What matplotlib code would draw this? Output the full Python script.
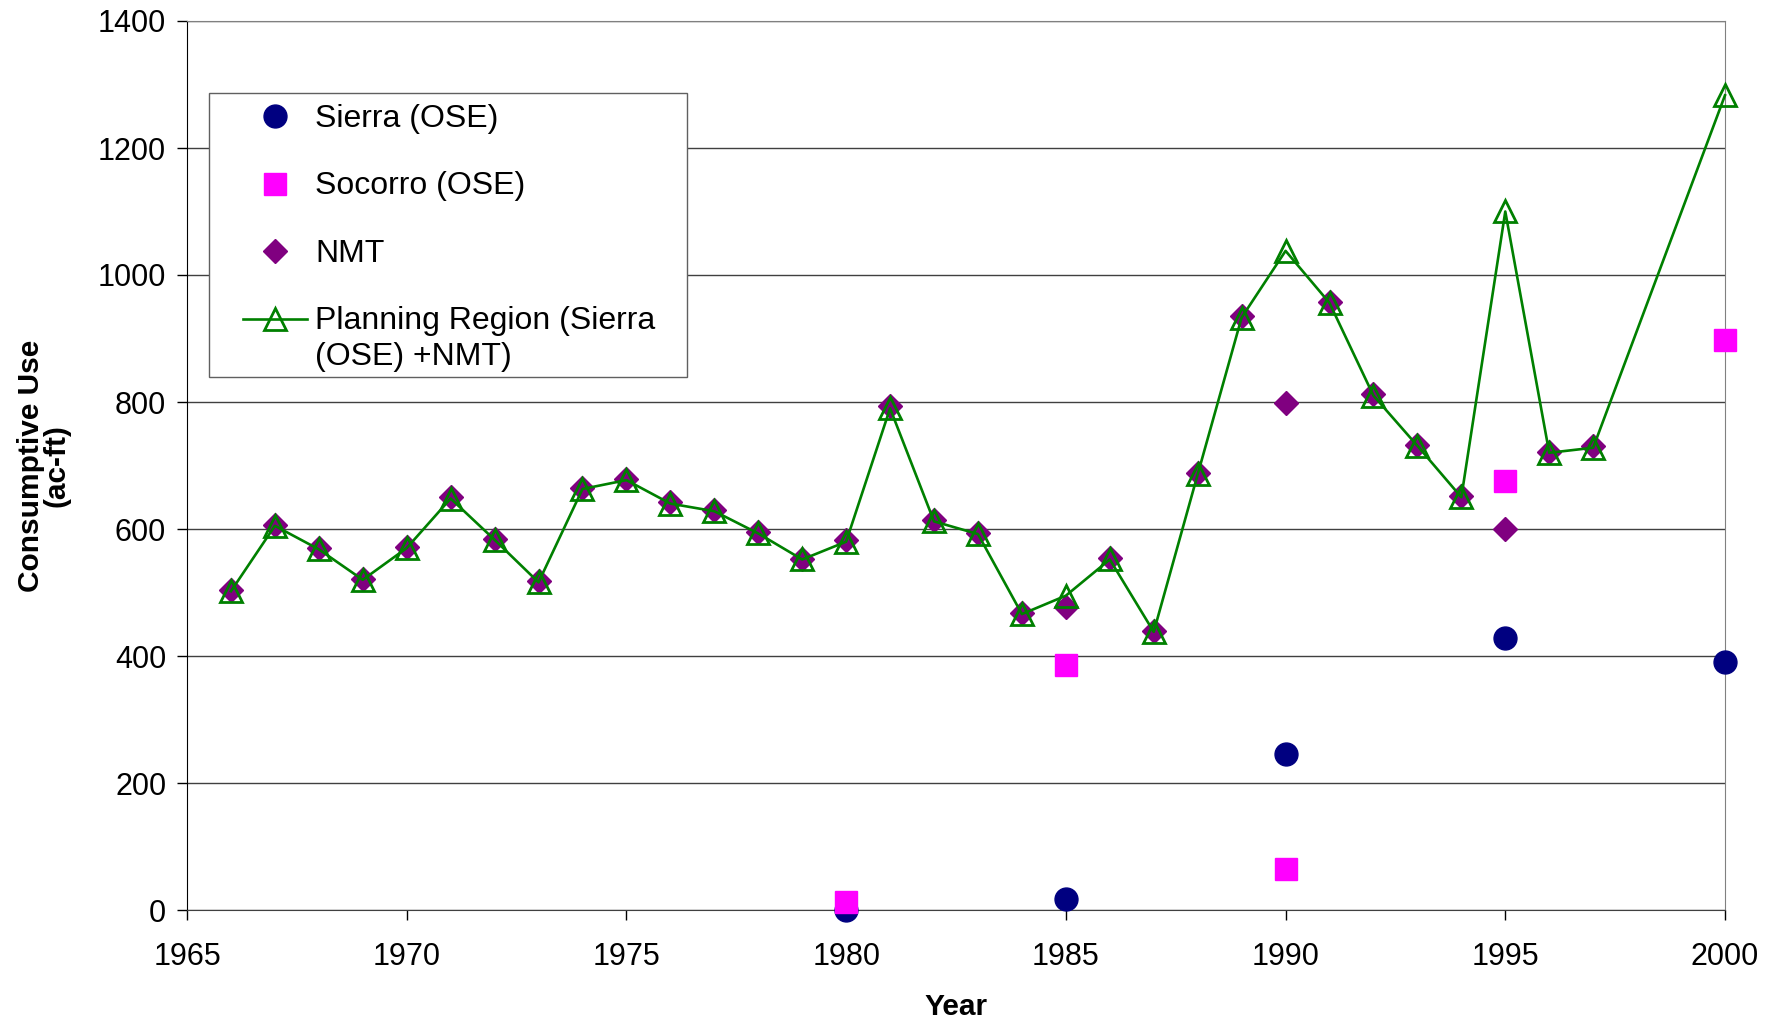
import matplotlib
matplotlib.use("Agg")
import matplotlib.pyplot as plt
from matplotlib.patches import Rectangle
from matplotlib.lines import Line2D

plt.rcParams['font.family'] = ['Liberation Sans', 'DejaVu Sans']

# data
years = [1966, 1967, 1968, 1969, 1970, 1971, 1972, 1973, 1974, 1975,
         1976, 1977, 1978, 1979, 1980, 1981, 1982, 1983, 1984, 1985,
         1986, 1987, 1988, 1989, 1990, 1991, 1992, 1993, 1994, 1995,
         1996, 1997, 2000]
planning = [502, 605, 568, 520, 570, 648, 583, 516, 663, 677,
            640, 628, 593, 552, 580, 790, 612, 592, 466, 495,
            552, 438, 686, 933, 1038, 956, 810, 731, 650, 1100,
            720, 728, 1283]

nmt_years = [1966, 1967, 1968, 1969, 1970, 1971, 1972, 1973, 1974, 1975,
             1976, 1977, 1978, 1979, 1980, 1981, 1982, 1983, 1984, 1985,
             1986, 1987, 1988, 1989, 1990, 1991, 1992, 1993, 1994, 1995,
             1996, 1997]
nmt = [504, 607, 570, 522, 572, 650, 585, 518, 665, 679,
       642, 630, 595, 553, 582, 794, 614, 594, 468, 477,
       554, 440, 688, 936, 799, 958, 813, 733, 652, 600,
       722, 731]

ose_years = [1980, 1985, 1990, 1995, 2000]
sierra = [0, 18, 245, 429, 390]
socorro = [12, 386, 64, 676, 898]

W, H = 1779, 1021
fig = plt.figure(figsize=(W / 100, H / 100), dpi=100)
ax = fig.add_axes([187 / W, 1 - 910 / H, (1725 - 187) / W, (910 - 21) / H])

ax.plot(ose_years, sierra, 'o', color='#000080', ms=16.5, ls='none',
        clip_on=False, zorder=3)
ax.plot(ose_years, socorro, 's', color='#FF00FF', ms=16.5, ls='none',
        clip_on=False, zorder=4)
ax.plot(nmt_years, nmt, 'D', color='#800080', ms=12, ls='none',
        clip_on=False, zorder=5)
ax.plot(years, planning, '-^', color='#008000', lw=1.9, ms=16.5,
        mfc='none', mec='#008000', mew=2, clip_on=False, zorder=6)

ax.set_xlim(1965, 2000)
ax.set_ylim(0, 1400)
ax.set_xticks(range(1965, 2001, 5))
ax.set_yticks(range(0, 1401, 200))
ax.yaxis.grid(True, color='#404040', lw=1)
ax.set_axisbelow(True)
ax.tick_params(axis='both', direction='out', length=7, width=1, labelsize=22)
ax.tick_params(axis='x', pad=16)
ax.tick_params(axis='y', pad=8)
for s in ['top', 'right']:
    ax.spines[s].set_color('#808080')
ax.spines['left'].set_color('black')
ax.spines['bottom'].set_color('#404040')

ax.set_xlabel('Year', fontsize=21.5, fontweight='bold', labelpad=15)
ax.set_ylabel('Consumptive Use\n(ac-ft)', fontsize=21.5, fontweight='bold',
              labelpad=20, linespacing=0.88)

# legend box
ax.add_patch(Rectangle((209 / W, 1 - 377 / H), (687 - 209) / W, (377 - 93) / H,
                       transform=fig.transFigure, facecolor='white',
                       edgecolor='#606060', lw=1, zorder=10, clip_on=False))

handles = [
    Line2D([], [], marker='o', color='#000080', ms=16.5, ls='none'),
    Line2D([], [], marker='s', color='#FF00FF', ms=16.5, ls='none'),
    Line2D([], [], marker='D', color='#800080', ms=12, ls='none'),
    Line2D([], [], marker='^', color='#008000', lw=1.9, ms=16.5, mfc='none',
           mew=2),
]
labels = ['Sierra (OSE)', 'Socorro (OSE)', 'NMT',
          'Planning Region (Sierra\n(OSE) +NMT)']
leg = ax.legend(handles, labels, loc='upper left',
                bbox_to_anchor=(243 / W, 1 - 104 / H),
                bbox_transform=fig.transFigure, frameon=False, fontsize=23,
                borderpad=0, borderaxespad=0, handlelength=2.0,
                handleheight=0.95, handletextpad=0.25, labelspacing=1.17,
                numpoints=1)
leg.set_zorder(11)
for t in leg.get_texts():
    t.set_linespacing(1.27)
# keep the marker level with the first line of a two-line label
for col in leg._legend_handle_box.get_children():
    for item in col.get_children():
        item.align = 'top'

fig.savefig('out.png', dpi=100)
